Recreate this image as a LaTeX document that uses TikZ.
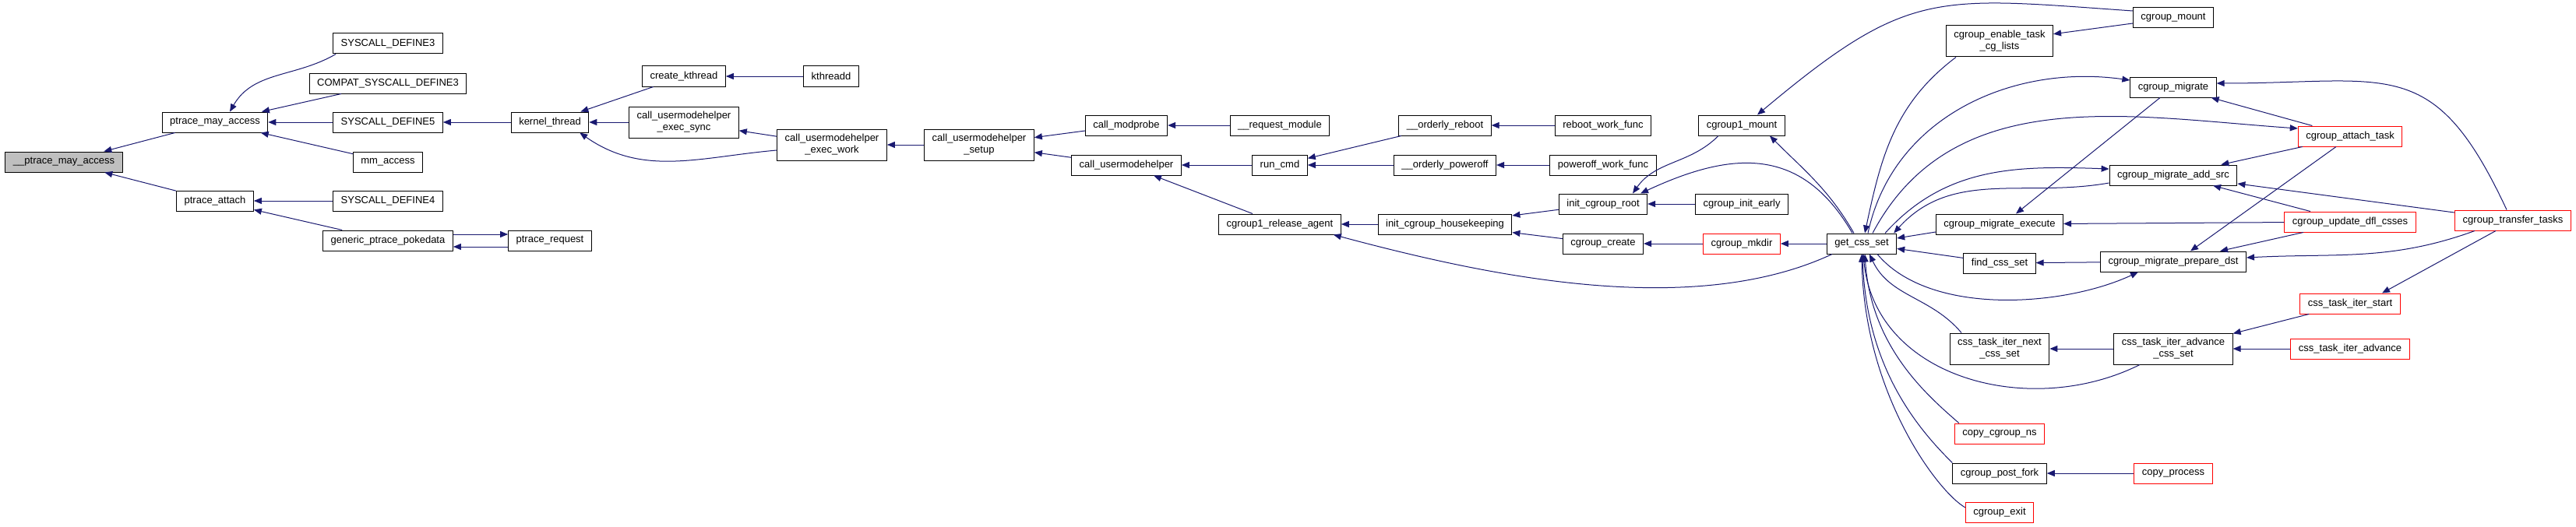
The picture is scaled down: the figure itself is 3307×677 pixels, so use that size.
\documentclass[tikz,border=0pt]{standalone}
\usepackage{fontspec}
\setmainfont{Liberation Sans}
\usetikzlibrary{arrows.meta}
\definecolor{edgeblue}{HTML}{191970}
\definecolor{rootgray}{HTML}{BFBFBF}
\tikzset{
  fn/.style={draw=black, line width=1pt, fill=white, font=\fontsize{13}{15}\selectfont,
      inner xsep=10pt, inner ysep=0pt, minimum height=26pt, align=center},
  fntwo/.style={fn, minimum height=40pt},
  trunc/.style={draw=red},
  root/.style={fill=rootgray},
  call/.style={draw=edgeblue, line width=1pt, arrows={Triangle[length=10pt,width=8pt]-}},
}

\begin{document}
\begin{tikzpicture}[x=1pt,y=1pt]
  \useasboundingbox (0,0) rectangle (3307,-677);
  % root and ptrace callers
  \node[fn, root] (pma) at (82,-208) {\_\_ptrace\_may\_access};
  \node[fn] (pmaccess) at (276,-157) {ptrace\_may\_access};
  \node[fn] (pattach) at (276,-258) {ptrace\_attach};
  \node[fn] (sd3) at (498,-56) {SYSCALL\_DEFINE3};
  \node[fn] (compat) at (498,-107) {COMPAT\_SYSCALL\_DEFINE3};
  \node[fn] (sd5) at (498,-157) {SYSCALL\_DEFINE5};
  \node[fn] (mmaccess) at (498,-208) {mm\_access};
  \node[fn] (sd4) at (498,-258) {SYSCALL\_DEFINE4};
  \node[fn] (pokedata) at (498,-309) {generic\_ptrace\_pokedata};
  \node[fn] (preq) at (706,-309) {ptrace\_request};
  % kernel thread and usermode helpers
  \node[fn] (kthread) at (706,-157) {kernel\_thread};
  \node[fn] (ckthread) at (878,-98) {create\_kthread};
  \node[fn] (kthreadd) at (1067,-98) {kthreadd};
  \node[fntwo] (umhsync) at (878,-157) {call\_usermodehelper\\\_exec\_sync};
  \node[fntwo] (umhwork) at (1068,-186) {call\_usermodehelper\\\_exec\_work};
  \node[fntwo] (umhsetup) at (1257,-186) {call\_usermodehelper\\\_setup};
  \node[fn] (modprobe) at (1446,-161) {call\_modprobe};
  \node[fn] (reqmod) at (1643,-161) {\_\_request\_module};
  \node[fn] (umh) at (1446,-212) {call\_usermodehelper};
  \node[fn] (runcmd) at (1643,-212) {run\_cmd};
  \node[fn] (oreboot) at (1855,-161) {\_\_orderly\_reboot};
  \node[fn] (opoweroff) at (1855,-212) {\_\_orderly\_poweroff};
  \node[fn] (rebootwf) at (2058,-161) {reboot\_work\_func};
  \node[fn] (poweroffwf) at (2058,-212) {poweroff\_work\_func};
  % cgroup setup
  \node[fn] (relagent) at (1643,-288) {cgroup1\_release\_agent};
  \node[fn] (housekeep) at (1855,-288) {init\_cgroup\_housekeeping};
  \node[fn] (initroot) at (2058,-262) {init\_cgroup\_root};
  \node[fn] (ccreate) at (2058,-313) {cgroup\_create};
  \node[fn] (c1mount) at (2236,-161) {cgroup1\_mount};
  \node[fn] (initearly) at (2236,-262) {cgroup\_init\_early};
  \node[fn, trunc] (mkdir) at (2236,-313) {cgroup\_mkdir};
  \node[fn] (getcss) at (2390,-313) {get\_css\_set};
  % cgroup migration
  \node[fn] (cmount) at (2790,-23) {cgroup\_mount};
  \node[fntwo] (enabletask) at (2567,-53) {cgroup\_enable\_task\\\_cg\_lists};
  \node[fn] (migrate) at (2790,-112) {cgroup\_migrate};
  \node[fn, trunc] (attach) at (3017,-175) {cgroup\_attach\_task};
  \node[fn] (addsrc) at (2790,-225) {cgroup\_migrate\_add\_src};
  \node[fn] (execute) at (2567,-288) {cgroup\_migrate\_execute};
  \node[fn, trunc] (updfl) at (3017,-285) {cgroup\_update\_dfl\_csses};
  \node[fn, trunc] (transfer) at (3226,-283) {cgroup\_transfer\_tasks};
  \node[fn] (findcss) at (2567,-338) {find\_css\_set};
  \node[fn] (prepdst) at (2790,-336) {cgroup\_migrate\_prepare\_dst};
  % css task iterators and fork/exit
  \node[fn, trunc] (iterstart) at (3017,-390) {css\_task\_iter\_start};
  \node[fntwo] (iternext) at (2567,-448) {css\_task\_iter\_next\\\_css\_set};
  \node[fntwo] (iteradvset) at (2790,-448) {css\_task\_iter\_advance\\\_css\_set};
  \node[fn, trunc] (iteradv) at (3017,-448) {css\_task\_iter\_advance};
  \node[fn, trunc] (copyns) at (2567,-557) {copy\_cgroup\_ns};
  \node[fn] (postfork) at (2567,-608) {cgroup\_post\_fork};
  \node[fn, trunc] (copyproc) at (2790,-608) {copy\_process};
  \node[fn, trunc] (cexit) at (2567,-658) {cgroup\_exit};

  % ptrace edges
  \draw[call] (pma) -- (pmaccess);
  \draw[call] (pma) -- (pattach);
  \draw[call] ([xshift=19pt]pmaccess.north) to[out=60,in=-150] ([xshift=4pt]sd3.south west);
  \draw[call] (pmaccess) -- (compat);
  \draw[call] (pmaccess) -- (sd5);
  \draw[call] (pmaccess) -- (mmaccess);
  \draw[call] (pattach) -- (sd4);
  \draw[call] (pattach) -- (pokedata);
  \draw[call] ([yshift=8pt]preq.west) -- ([yshift=8pt]pokedata.east);
  \draw[call] ([yshift=-8pt]pokedata.east) -- ([yshift=-8pt]preq.west);
  % kernel thread edges
  \draw[call] (sd5) -- (kthread);
  \draw[call] (kthread) -- (ckthread);
  \draw[call] (ckthread) -- (kthreadd);
  \draw[call] (kthread) -- (umhsync);
  \draw[call] ([xshift=-12pt]kthread.south east) to[out=-35,in=185] ([yshift=-7pt]umhwork.west);
  \draw[call] (umhsync) -- (umhwork);
  \draw[call] (umhwork) -- (umhsetup);
  \draw[call] (umhsetup) -- (modprobe);
  \draw[call] (umhsetup) -- (umh);
  \draw[call] (modprobe) -- (reqmod);
  \draw[call] (umh) -- (runcmd);
  \draw[call] (umh) -- (relagent);
  \draw[call] (runcmd) -- (oreboot);
  \draw[call] (runcmd) -- (opoweroff);
  \draw[call] (oreboot) -- (rebootwf);
  \draw[call] (opoweroff) -- (poweroffwf);
  % cgroup setup edges
  \draw[call] (relagent) -- (housekeep);
  \draw[call] ([xshift=-10pt]relagent.south east) to[out=-15,in=-155,looseness=0.8] ([xshift=-38pt]getcss.south);
  \draw[call] (housekeep) -- (initroot);
  \draw[call] (housekeep) -- (ccreate);
  \draw[call] ([xshift=38pt]initroot.north) to[out=55,in=-135] ([xshift=-30pt]c1mount.south);
  \draw[call] ([xshift=48pt]initroot.north) to[out=25,in=120,looseness=1.2] ([xshift=-12pt]getcss.north);
  \draw[call] (initroot) -- (initearly);
  \draw[call] (ccreate) -- (mkdir);
  \draw[call] (mkdir) -- (getcss);
  \draw[call] ([xshift=36pt]c1mount.south) to[out=-45,in=120] ([xshift=-10pt]getcss.north);
  \draw[call] ([xshift=20pt]c1mount.north) to[out=40,in=176,looseness=1.3] ([yshift=9pt]cmount.west);
  \draw[call] (enabletask) -- (cmount);
  \draw[call] ([xshift=4pt]getcss.north) to[out=78,in=-143] ([xshift=-56pt]enabletask.south);
  % cgroup migration edges
  \draw[call] ([yshift=9pt]migrate.west) to[out=172,in=78] ([xshift=8pt]getcss.north);
  \draw[call] ([yshift=10pt]attach.west) to[out=176,in=62] ([xshift=14pt]getcss.north);
  \draw[call] ([yshift=8pt]addsrc.west) to[out=178,in=48] ([xshift=30pt]getcss.north);
  \draw[call] ([xshift=-4pt]getcss.north east) to[out=48,in=190] ([yshift=-10pt]addsrc.west);
  \draw[call] ([xshift=21pt]execute.north) -- ([xshift=-17pt]migrate.south);
  \draw[call] ([yshift=7pt]getcss.east) -- ([yshift=-10pt]execute.west);
  \draw[call] (execute) -- (updfl);
  \draw[call] (migrate) -- (attach);
  \draw[call] ([yshift=5pt]migrate.east) to[out=0,in=115,looseness=1.4] ([xshift=-8pt]transfer.north);
  \draw[call] (addsrc) -- (attach);
  \draw[call] ([xshift=22pt]prepdst.north) -- ([xshift=-18pt]attach.south);
  \draw[call] (addsrc) -- (updfl);
  \draw[call] (addsrc) -- (transfer);
  \draw[call] (prepdst) -- (updfl);
  \draw[call] ([yshift=5pt]prepdst.east) to[out=3,in=-160] ([xshift=-49pt]transfer.south);
  \draw[call] (getcss) -- (findcss);
  \draw[call] (findcss) -- (prepdst);
  \draw[call] ([xshift=-45pt]prepdst.south) to[out=-155,in=-50,looseness=0.8] ([xshift=20pt]getcss.south);
  % css task iterator and fork/exit edges
  \draw[call] ([xshift=41pt]iterstart.north) -- ([xshift=-22pt]transfer.south);
  \draw[call] (iteradvset) -- (iterstart);
  \draw[call] (iteradvset) -- (iteradv);
  \draw[call] (iternext) -- (iteradvset);
  \draw[call] ([xshift=10pt]getcss.south) to[out=-65,in=130] ([xshift=-49pt]iternext.north);
  \draw[call] ([xshift=2pt]getcss.south) .. controls +(15,-160) and +(-140,-70) .. ([xshift=-43pt]iteradvset.south);
  \draw[call] ([xshift=4pt]getcss.south) .. controls +(8,-120) and +(-40,35) .. ([xshift=6pt]copyns.north west);
  \draw[call] ([xshift=1pt]getcss.south) .. controls +(5,-150) and +(-40,40) .. (postfork.north west);
  \draw[call] (getcss.south) .. controls +(3,-180) and +(-35,20) .. ([yshift=6pt]cexit.west);
  \draw[call] (postfork) -- (copyproc);
\end{tikzpicture}
\end{document}
